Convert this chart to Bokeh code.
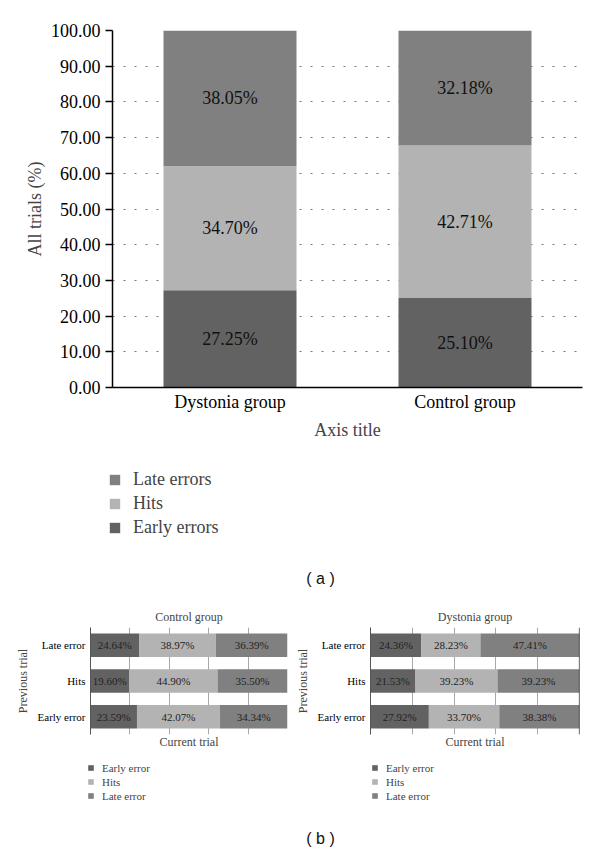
from bokeh.plotting import figure
from bokeh.layouts import column, row
from bokeh.models import (FactorRange, Range1d, FixedTicker, NumeralTickFormatter,
                          Legend, LegendItem, Label, Span, ColumnDataSource)
from bokeh.core.properties import value
from bokeh.embed import file_html
from bokeh.resources import INLINE
import numpy as np

# ---------------- data: panel (a) ----------------
groups = ["Dystonia group", "Control group"]
early_errors = [27.25, 25.10]
hits = [34.70, 42.71]
late_errors = [38.05, 32.18]
y_ticks = [0, 10, 20, 30, 40, 50, 60, 70, 80, 90, 100]

# ---------------- data: panel (b) ----------------
prev_trials = ["Early error", "Hits", "Late error"]          # bottom -> top
ctrl_early = [23.59, 19.60, 24.64]
ctrl_hits = [42.07, 44.90, 38.97]
ctrl_late = [34.34, 35.50, 36.39]
dyst_early = [27.92, 21.53, 24.36]
dyst_hits = [33.70, 39.23, 28.23]
dyst_late = [38.38, 39.23, 47.41]
grid_ticks = [0, 20, 40, 60, 80, 100]

SERIF = "Liberation Serif"
SANS = "Liberation Sans"
C_EARLY = "#626262"
C_HITS = "#b3b3b3"
C_LATE = "#808080"
COLORS = [C_EARLY, C_HITS, C_LATE]
STACK = ["early", "hits", "late"]

W = 596
A_LEFT, A_RIGHT = 112, 14
W_LEFT_B = 292


def bare(width, height, **kw):
    f = figure(width=width, height=height, output_backend="svg", toolbar_location=None,
               title_location=None, x_axis_location=None, y_axis_location=None,
               min_border_left=0, min_border_right=0, min_border_top=0, min_border_bottom=0,
               **kw)
    f.grid.visible = False
    f.outline_line_color = None
    return f


# ================= panel (a) =================
src_a = ColumnDataSource(dict(group=groups, early=early_errors, hits=hits, late=late_errors))

p1 = figure(width=W, height=450, x_range=FactorRange(factors=groups, range_padding=0),
            y_range=Range1d(0, 100), output_backend="svg", toolbar_location=None,
            min_border_left=A_LEFT, min_border_right=A_RIGHT, min_border_top=30,
            min_border_bottom=63)
p1.outline_line_color = None

rs_a = p1.vbar_stack(STACK, x="group", width=0.566, color=COLORS, line_color=None, source=src_a)

e = np.array(early_errors); h = np.array(hits); l = np.array(late_errors)
lab_x = groups * 3
lab_y = list(e / 2) + list(e + h / 2) + list(e + h + l / 2)
lab_t = [f"{v:.2f}%" for v in early_errors + hits + late_errors]
p1.text(x=lab_x, y=lab_y, text=lab_t, text_align="center", text_baseline="middle",
        text_font=value(SERIF), text_font_size="18px", text_color="#111111")

p1.yaxis.ticker = FixedTicker(ticks=y_ticks)
p1.yaxis.formatter = NumeralTickFormatter(format="0.00")
p1.yaxis.major_label_text_font = SERIF
p1.yaxis.major_label_text_font_size = "18px"
p1.yaxis.major_label_text_color = "black"
p1.yaxis.major_tick_out = 7
p1.yaxis.major_tick_in = 0
p1.yaxis.minor_tick_line_color = None
p1.yaxis.axis_line_width = 1.5
p1.yaxis.major_tick_line_width = 1.5
p1.yaxis.axis_label = "All trials (%)"
p1.yaxis.axis_label_text_font = SERIF
p1.yaxis.axis_label_text_font_style = "normal"
p1.yaxis.axis_label_text_font_size = "18px"
p1.yaxis.axis_label_standoff = 3
p1.yaxis.major_label_standoff = 5

p1.xaxis.major_tick_out = 0
p1.xaxis.major_tick_in = 0
p1.xaxis.axis_line_width = 1.5
p1.xaxis.major_label_text_font = SERIF
p1.xaxis.major_label_text_font_size = "18px"
p1.xaxis.major_label_text_color = "black"
p1.xaxis.major_label_standoff = 4
p1.xaxis.axis_label = "Axis title"
p1.xaxis.axis_label_text_font = SERIF
p1.xaxis.axis_label_text_font_style = "normal"
p1.xaxis.axis_label_text_font_size = "18px"
p1.xaxis.axis_label_standoff = 5

p1.xgrid.visible = False
p1.ygrid.grid_line_color = "#777777"
p1.ygrid.grid_line_dash = "2 9"
p1.ygrid.grid_line_width = 1.2

# legend of panel (a): its own strip, with hidden copies of the stacked bars
leg_fig_a = bare(W, 96, x_range=FactorRange(factors=groups), y_range=Range1d(0, 100))
hid_a = leg_fig_a.vbar_stack(STACK, x="group", width=0.566, color=COLORS, line_color=None,
                             source=src_a)
for r in hid_a:
    r.visible = False
leg_a = Legend(items=[LegendItem(label="Late errors", renderers=[hid_a[2]]),
                      LegendItem(label="Hits", renderers=[hid_a[1]]),
                      LegendItem(label="Early errors", renderers=[hid_a[0]])],
               location=(108, 8), orientation="vertical",
               label_text_font=SERIF, label_text_font_size="18px",
               glyph_width=13, glyph_height=13, label_height=20, spacing=3,
               padding=0, margin=0, border_line_color=None, background_fill_alpha=0,
               label_standoff=12)
leg_fig_a.add_layout(leg_a)


def caption(text, height, cx, cy_from_bottom):
    c = bare(W, height, x_range=Range1d(0, 1), y_range=Range1d(0, 1))
    c.add_layout(Label(x=cx, y=cy_from_bottom, x_units="screen", y_units="screen",
                       text=text, text_align="center", text_baseline="middle",
                       text_font=SANS, text_font_size="16px", text_color="#111111"))
    return c


cap_a = caption("( a )", 50, 320, 18)


# ================= panel (b) =================
def make_panel(title, src, width, border_left, border_right, right_line):
    p = figure(width=width, height=156, y_range=FactorRange(factors=prev_trials, range_padding=0),
               x_range=Range1d(0, 100), output_backend="svg", toolbar_location=None,
               min_border_left=border_left, min_border_right=border_right, min_border_top=31,
               min_border_bottom=18)
    p.outline_line_color = None
    p.title.text = title
    p.title.text_font = SERIF
    p.title.text_font_size = "12px"
    p.title.text_font_style = "normal"
    p.title.align = "center"
    p.title.standoff = 7

    p.hbar_stack(STACK, y="prev", height=0.66, color=COLORS, line_color=None, source=src)

    d = src.data
    ea = np.array(d["early"]); ha = np.array(d["hits"]); la = np.array(d["late"])
    tx = list(ea / 2) + list(ea + ha / 2) + list(ea + ha + la / 2)
    ty = prev_trials * 3
    tt = [f"{v:.2f}%" for v in list(ea) + list(ha) + list(la)]
    p.text(x=tx, y=ty, text=tt, text_align="center", text_baseline="middle",
           text_font=value(SERIF), text_font_size="11px", text_color="#222222")

    p.xaxis.ticker = FixedTicker(ticks=[])
    p.xaxis.axis_line_color = None
    p.xaxis.major_tick_line_color = None
    p.xaxis.minor_tick_line_color = None
    p.xaxis.major_label_standoff = 0
    p.xaxis.axis_label = "Current trial"
    p.xaxis.axis_label_text_font = SERIF
    p.xaxis.axis_label_text_font_style = "normal"
    p.xaxis.axis_label_text_font_size = "12px"
    p.xaxis.axis_label_standoff = 0

    p.xgrid.ticker = FixedTicker(ticks=grid_ticks)
    p.xgrid.grid_line_color = "#a8a8a8"
    p.ygrid.visible = False

    p.yaxis.major_tick_out = 0
    p.yaxis.major_tick_in = 0
    p.yaxis.axis_line_color = "#555555"
    p.yaxis.major_label_text_font = SERIF
    p.yaxis.major_label_text_font_size = "11px"
    p.yaxis.major_label_text_color = "black"
    p.yaxis.major_label_standoff = 5
    p.yaxis.axis_label = "Previous trial"
    p.yaxis.axis_label_text_font = SERIF
    p.yaxis.axis_label_text_font_style = "normal"
    p.yaxis.axis_label_text_font_size = "12px"
    p.yaxis.axis_label_standoff = 5

    if right_line:
        p.add_layout(Span(location=p.x_range.end, dimension="height",
                          line_color="black", line_width=1.2))
    return p


def panel_legend(src, width, x):
    f = bare(width, 54, x_range=Range1d(0, 100), y_range=FactorRange(factors=prev_trials))
    hid = f.hbar_stack(STACK, y="prev", height=0.66, color=COLORS, line_color=None, source=src)
    for r in hid:
        r.visible = False
    leg = Legend(items=[LegendItem(label="Early error", renderers=[hid[0]]),
                        LegendItem(label="Hits", renderers=[hid[1]]),
                        LegendItem(label="Late error", renderers=[hid[2]])],
                 location=(x, 4), orientation="vertical",
                 label_text_font=SERIF, label_text_font_size="11px",
                 glyph_width=7, glyph_height=7, label_height=13, spacing=1,
                 padding=0, margin=0, border_line_color=None, background_fill_alpha=0,
                 label_standoff=8)
    f.add_layout(leg)
    return f


src_c = ColumnDataSource(dict(prev=prev_trials, early=ctrl_early, hits=ctrl_hits, late=ctrl_late))
src_d = ColumnDataSource(dict(prev=prev_trials, early=dyst_early, hits=dyst_hits, late=dyst_late))

W_RIGHT_B = W - W_LEFT_B
p2 = make_panel("Control group", src_c, W_LEFT_B, 90, W_LEFT_B - 287, False)
p3 = make_panel("Dystonia group", src_d, W_RIGHT_B, 370 - W_LEFT_B, W - 579, True)
lg2 = panel_legend(src_c, W_LEFT_B, 87)
lg3 = panel_legend(src_d, W_RIGHT_B, 371 - W_LEFT_B)

cap_b = caption("( b )", 42, 320, 10)

layout = column(p1, row(leg_fig_a), row(cap_a), row(p2, p3), row(lg2, lg3), row(cap_b))
open("out.html", "w").write(file_html(layout, INLINE))
